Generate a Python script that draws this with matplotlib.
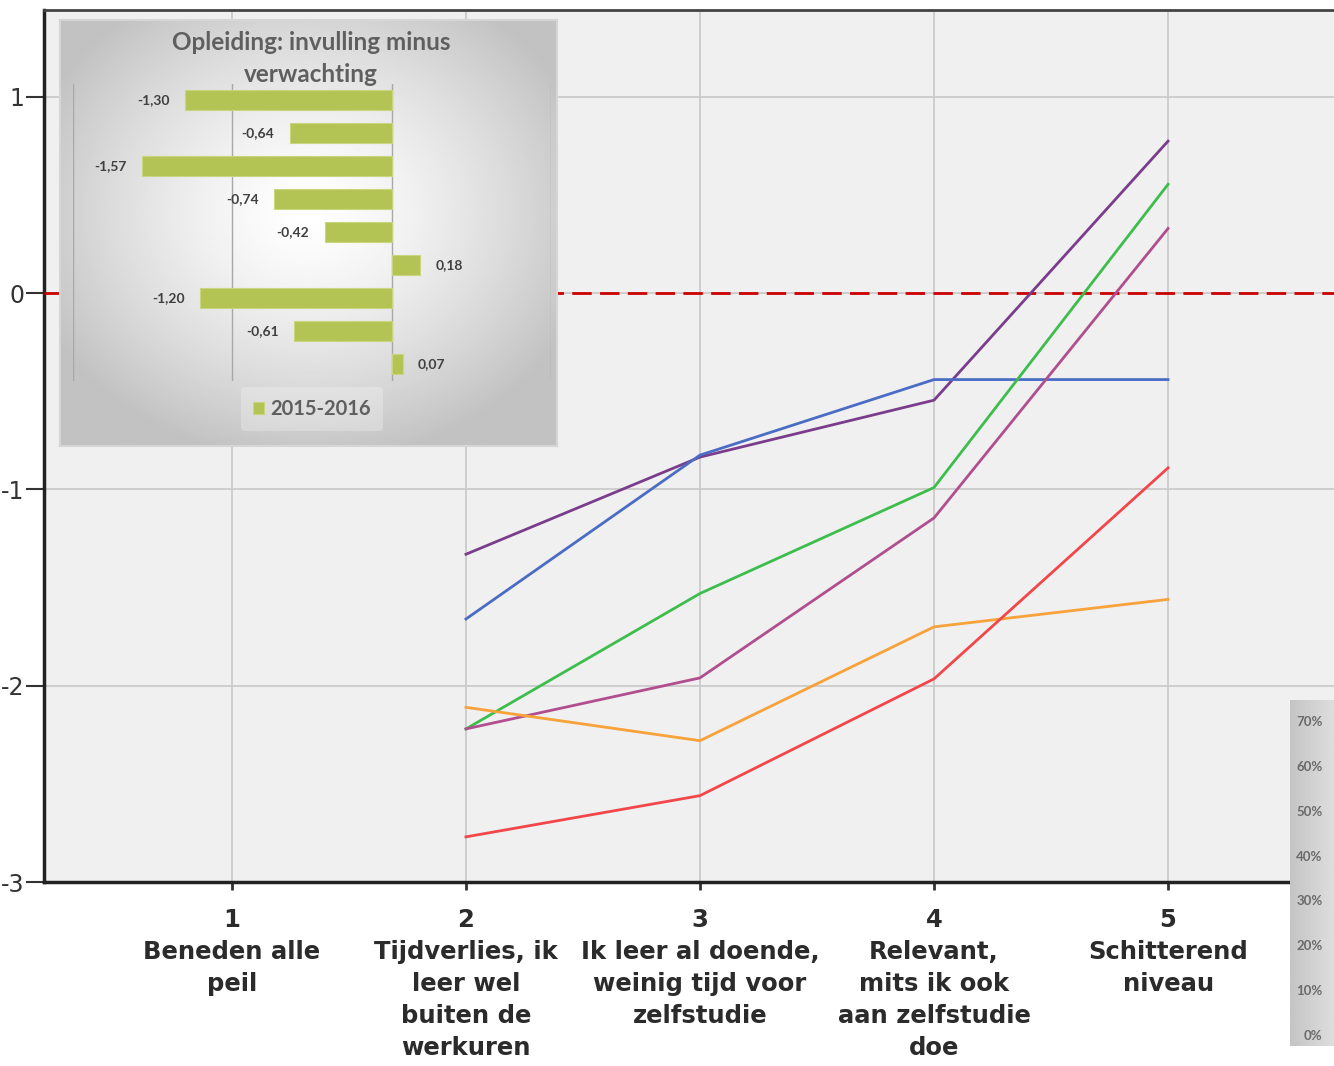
import matplotlib
matplotlib.use('Agg')
import matplotlib.pyplot as plt
import numpy as np

# main chart data
x_pos = [2, 3, 4, 5]
x_ticks = [1, 2, 3, 4, 5]
x_labels = ['1\nBeneden alle\npeil',
            '2\nTijdverlies, ik\nleer wel\nbuiten de\nwerkuren',
            '3\nIk leer al doende,\nweinig tijd voor\nzelfstudie',
            '4\nRelevant,\nmits ik ook\naan zelfstudie\ndoe',
            '5\nSchitterend\nniveau']
y_ticks = [1, 0, -1, -2, -3]
purple = [-1.33, -0.835, -0.545, 0.775]
blue = [-1.66, -0.825, -0.44, -0.44]
green = [-2.22, -1.53, -0.99, 0.555]
pink = [-2.22, -1.96, -1.145, 0.33]
orange = [-2.11, -2.28, -1.70, -1.56]
red = [-2.77, -2.56, -1.965, -0.89]
series = [(purple, '#7A3D8C'), (blue, '#4A6CC4'), (green, '#3DBE4C'),
          (pink, '#B04E8E'), (orange, '#F8A23A'), (red, '#F2474A')]

# inset data
inset_title = 'Opleiding: invulling minus\nverwachting'
inset_values = [-1.30, -0.64, -1.57, -0.74, -0.42, 0.18, -1.20, -0.61, 0.07]
inset_series = '2015-2016'

# percentage strip
pct_values = [0, 0.1, 0.2, 0.3, 0.4, 0.5, 0.6, 0.7]

W, H = 1334, 1066
fig = plt.figure(figsize=(W / 100, H / 100), dpi=100)

def box(x0, y0, x1, y1):
    # pixel box (top-left origin) -> figure rect
    return [x0 / W, 1 - y1 / H, (x1 - x0) / W, (y1 - y0) / H]

ax = fig.add_axes(box(44, 10, 1334, 882))
ax.set_facecolor('#F0F0F0')
ax.set_xlim(0.197, 5.709)
ax.set_ylim(-3, 1.443)
ax.set_xticks(x_ticks)
ax.set_xticklabels(x_labels, fontsize=17.5, fontweight='bold', color='#2B2B2B',
                   linespacing=1.42, family='DejaVu Sans')
ax.set_yticks(y_ticks)
ax.set_yticklabels([str(v) for v in y_ticks], fontsize=17, color='#333333')
ax.tick_params(axis='y', length=13, width=1.5, color='#333333', pad=1)
ax.tick_params(axis='x', length=6, width=2, color='#333333', pad=13)
ax.grid(True, color='#C8C8C8', lw=1.2)
ax.set_axisbelow(True)
ax.spines['right'].set_visible(False)
ax.spines['left'].set_linewidth(2.5)
ax.spines['left'].set_color('#222222')
ax.spines['bottom'].set_linewidth(2.5)
ax.spines['bottom'].set_color('#222222')
ax.spines['top'].set_linewidth(2)
ax.spines['top'].set_color('#444444')

ax.axhline(0, color='#CC0000', lw=2, dashes=(7, 3), zorder=3)
for vals, col in series:
    ax.plot(x_pos, vals, color=col, lw=2, zorder=4)

# inset background with radial gradient
bg = fig.add_axes(box(60, 20, 557, 446))
yy, xx = np.mgrid[-1:1:300j, -1:1:350j]
r = np.sqrt(xx ** 2 + (yy + 0.1) ** 2)
shade = np.clip(1.0 - 0.19 * r ** 1.4, 0.76, 1.0)
bg.imshow(shade, cmap='gray', vmin=0, vmax=1, aspect='auto',
          extent=[0, 1, 0, 1], zorder=0)
bg.set_xlim(0, 1)
bg.set_ylim(0, 1)
bg.set_xticks([])
bg.set_yticks([])
for s in bg.spines.values():
    s.set_color('#D6D6D6')
    s.set_linewidth(1.5)
bg.text(0.505, 0.909, inset_title, ha='center', va='center', fontsize=17.5,
        fontweight='bold', color='#5F5F5F', linespacing=1.45, family='Lato',
        transform=bg.transAxes)

bx = fig.add_axes(box(73, 83.5, 551, 380.5))
bx.patch.set_alpha(0)
cats = np.arange(len(inset_values))
bars = bx.barh(cats, inset_values, height=0.58, color='#B4C454',
               edgecolor='#C9D67E', lw=0.8, label=inset_series, zorder=2)
bx.set_xlim(-2, 1)
bx.set_ylim(len(inset_values) - 0.5, -0.5)
bx.set_xticks([-2, -1, 0, 1])
bx.set_yticks([])
bx.tick_params(axis='x', length=0, labelbottom=False)
bx.grid(True, axis='x', color='#A8A8A8', lw=1)
bx.set_axisbelow(True)
for s in bx.spines.values():
    s.set_visible(False)
for i, v in enumerate(inset_values):
    lab = ('%.2f' % v).replace('.', ',')
    if v < 0:
        bx.annotate(lab, (v, i), xytext=(-11, 0), textcoords='offset points',
                    ha='right', va='center', fontsize=10, fontweight='bold',
                    color='#404040', family='Lato')
    else:
        bx.annotate(lab, (v, i), xytext=(11, 0), textcoords='offset points',
                    ha='left', va='center', fontsize=10, fontweight='bold',
                    color='#404040', family='Lato')
leg = bx.legend(loc='center', bbox_to_anchor=(0.5, -0.095), frameon=True,
                handlelength=0.55, handleheight=0.55, handletextpad=0.3,
                borderpad=0.6, prop={'family': 'Lato', 'weight': 'bold',
                                     'size': 14.5})
leg.get_frame().set_facecolor('white')
leg.get_frame().set_alpha(0.25)
leg.get_frame().set_edgecolor('none')
for t in leg.get_texts():
    t.set_color('#5F5F5F')

# percentage strip at bottom right
px = fig.add_axes(box(1290, 700, 1334, 1046))
grad = np.linspace(0.77, 0.87, 60)[None, :].repeat(10, axis=0)
px.imshow(grad, cmap='gray', vmin=0, vmax=1, aspect='auto',
          extent=[0, 1, -0.0223, 0.749])
px.set_xlim(0, 1)
px.set_ylim(-0.0223, 0.749)
px.set_xticks([])
px.set_yticks([])
for s in px.spines.values():
    s.set_visible(False)
for v in pct_values:
    px.text(0.74, v, '%d%%' % round(v * 100), ha='right', va='center',
            fontsize=9.5, fontweight='bold', color='#6A6A6A', family='Lato')

fig.savefig('out.png', dpi=100)
